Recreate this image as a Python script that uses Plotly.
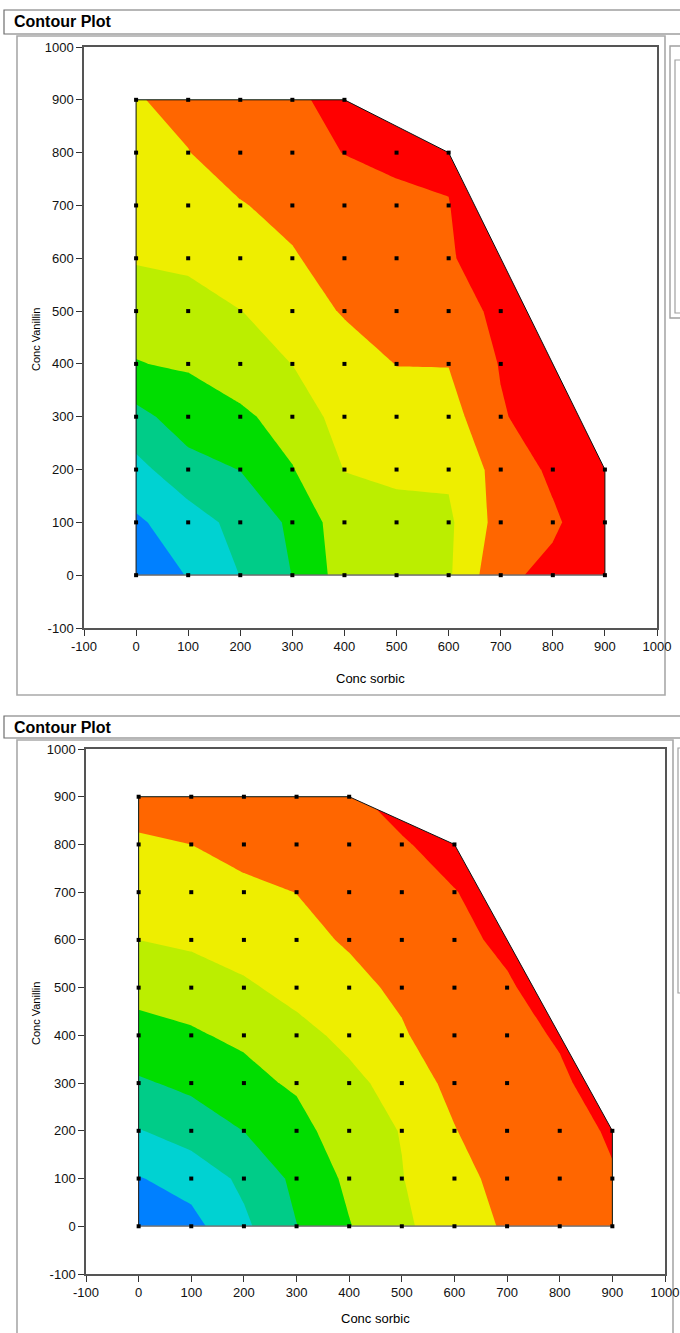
import plotly.graph_objects as go

W, H = 680, 1333
FONT = "Liberation Sans, Arial, Helvetica, sans-serif"

# ---------------- data ----------------
x_grid = [0, 100, 200, 300, 400, 500, 600, 700, 800, 900]
y_grid = [0, 100, 200, 300, 400, 500, 600, 700, 800, 900]

tick_vals = [-100, 0, 100, 200, 300, 400, 500, 600, 700, 800, 900, 1000]
tick_text = ["-100", "0", "100", "200", "300", "400", "500", "600", "700", "800", "900", "1000"]

# response values (rows = y_grid, columns = x_grid); cells beyond the
# constraint edge are estimated continuations, hidden by the region mask
z_top = [
    [0.20, 1.06, 2.02, 3.02, 4.46, 4.60, 4.87, 6.79, 7.25, 7.80],
    [0.85, 1.53, 2.33, 3.17, 4.60, 4.75, 4.83, 6.39, 6.85, 7.68],
    [1.70, 2.64, 3.02, 3.95, 5.02, 5.15, 5.15, 6.38, 7.18, 7.80],
    [2.70, 3.49, 3.80, 4.43, 5.38, 5.60, 5.59, 6.91, 7.50, 8.00],
    [3.97, 4.10, 4.60, 5.01, 5.50, 6.02, 6.03, 7.06, 7.60, 8.10],
    [4.30, 4.60, 4.98, 5.48, 6.09, 6.40, 6.70, 7.15, 7.80, 8.20],
    [5.10, 5.20, 5.60, 5.92, 6.40, 6.60, 6.90, 7.57, 7.90, 8.30],
    [5.50, 5.70, 5.95, 6.24, 6.50, 6.75, 6.98, 7.60, 8.00, 8.30],
    [5.80, 5.98, 6.38, 6.70, 7.02, 7.24, 7.10, 7.60, 8.00, 8.30],
    [5.95, 6.21, 6.50, 6.85, 7.27, 7.60, 7.80, 8.00, 8.20, 8.40],
]

z_bottom = [
    [0.30, 0.69, 1.81, 2.98, 3.95, 4.85, 5.45, 6.14, 6.50, 6.80],
    [0.95, 1.37, 2.21, 3.22, 4.20, 4.97, 5.60, 6.40, 6.75, 6.98],
    [1.95, 2.45, 3.01, 3.60, 4.65, 5.03, 5.95, 6.78, 6.90, 7.03],
    [2.88, 3.21, 3.70, 4.15, 4.75, 5.38, 6.30, 6.70, 6.95, 7.15],
    [3.65, 3.90, 4.17, 4.70, 5.24, 5.90, 6.57, 6.90, 7.03, 7.60],
    [4.30, 4.38, 4.85, 5.30, 5.75, 6.17, 6.55, 6.93, 7.30, 7.80],
    [5.00, 5.20, 5.45, 5.75, 6.09, 6.50, 6.85, 7.12, 7.50, 8.00],
    [5.45, 5.60, 5.80, 6.01, 6.35, 6.70, 6.98, 7.25, 7.70, 8.10],
    [5.90, 6.00, 6.30, 6.55, 6.75, 6.95, 7.20, 7.50, 7.90, 8.20],
    [6.30, 6.40, 6.55, 6.70, 6.92, 7.20, 7.50, 7.80, 8.10, 8.30],
]

# design points: largest sorbic level run at each vanillin level
row_max_x = [900, 900, 900, 700, 700, 700, 600, 600, 600, 400]
design_x = [x for y, mx in zip(y_grid, row_max_x) for x in x_grid if x <= mx]
design_y = [y for y, mx in zip(y_grid, row_max_x) for x in x_grid if x <= mx]

# constraint region boundary
region_x = [0, 0, 400, 600, 900, 900, 0]
region_y = [0, 900, 900, 800, 200, 0, 0]
mask_x = [400, 600, 900, 912, 912, 400, 400]
mask_y = [900, 800, 200, 200, 912, 912, 900]

levels = dict(start=1, end=7, size=1)
band_colors = ["#0080FF", "#00D2D2", "#00CC88", "#00DD00",
               "#BBEE00", "#EEEE00", "#FF6600", "#FF0000"]
colorscale = [[i / (len(band_colors) - 1), c] for i, c in enumerate(band_colors)]

x_title = "Conc sorbic"
y_title = "Conc Vanillin"
panel_title = "Contour Plot"

# ---------------- figure ----------------
fig = go.Figure()


def add_panel(z, xa, ya):
    fig.add_trace(go.Contour(
        x=x_grid, y=y_grid, z=z, xaxis=xa, yaxis=ya,
        autocontour=False, contours=dict(coloring="fill", showlines=False, **levels),
        colorscale=colorscale, showscale=False,
        line=dict(width=0, smoothing=0), hoverinfo="skip"))
    fig.add_trace(go.Scatter(
        x=mask_x, y=mask_y, xaxis=xa, yaxis=ya, mode="lines", fill="toself",
        fillcolor="white", line=dict(width=0, color="white"), hoverinfo="skip",
        showlegend=False))
    fig.add_trace(go.Scatter(
        x=region_x, y=region_y, xaxis=xa, yaxis=ya, mode="lines",
        line=dict(color="#111111", width=1), hoverinfo="skip", showlegend=False))
    fig.add_trace(go.Scatter(
        x=[region_x[0], region_x[5]], y=[region_y[0], region_y[5]], xaxis=xa, yaxis=ya,
        mode="lines", line=dict(color="#8a8a8a", width=1.6), hoverinfo="skip",
        showlegend=False))
    fig.add_trace(go.Scatter(
        x=design_x, y=design_y, xaxis=xa, yaxis=ya, mode="markers",
        marker=dict(symbol="square", size=4, color="black"),
        hoverinfo="skip", showlegend=False))


add_panel(z_top, "x", "y")
add_panel(z_bottom, "x2", "y2")


def px(v):
    return v / W


def py(v):
    return 1 - v / H


def axis(domain, anchor):
    return dict(
        domain=domain, anchor=anchor, range=[-100, 1000],
        tickmode="array", tickvals=tick_vals, ticktext=tick_text,
        ticks="outside", ticklen=6, tickwidth=1, tickcolor="#333",
        showgrid=False, zeroline=False, showline=True, linecolor="#555",
        linewidth=1.5, mirror=True, fixedrange=True, automargin=False,
        tickfont=dict(family=FONT, size=13, color="#111"))


# plot area pixel boxes
p1 = dict(l=84, r=657, t=47, b=628)
p2 = dict(l=86, r=665, t=749, b=1274)

fig.update_layout(
    width=W, height=H, margin=dict(l=0, r=0, t=0, b=0, pad=0, autoexpand=False),
    paper_bgcolor="white", plot_bgcolor="white", showlegend=False,
    xaxis=axis([px(p1["l"]), px(p1["r"])], "y"),
    yaxis=axis([py(p1["b"]), py(p1["t"])], "x"),
    xaxis2=axis([px(p2["l"]), px(p2["r"])], "y2"),
    yaxis2=axis([py(p2["b"]), py(p2["t"])], "x2"),
)

shapes = []


def rect(x0, y0, x1, y1, color, width=1):
    shapes.append(dict(type="rect", xref="paper", yref="paper",
                       x0=px(x0), x1=px(x1), y0=py(y1), y1=py(y0),
                       line=dict(color=color, width=width), fillcolor="rgba(0,0,0,0)",
                       layer="below"))


# panel 1 chrome
rect(4, 10, 700, 34, "#6e6e6e", 1.2)
rect(17, 36, 665, 695, "#a9a9a9", 1.6)
rect(670, 46, 700, 318, "#a0a0a0", 1.4)
rect(675, 60, 700, 313, "#a0a0a0", 1.2)
# panel 2 chrome
rect(4, 716, 700, 738, "#6e6e6e", 1.2)
rect(17, 740, 673, 1400, "#a9a9a9", 1.6)
rect(678, 748, 700, 993, "#a0a0a0", 1.2)

annotations = []


def text(x, y, s, size, xanchor="center", angle=0, bold=False):
    annotations.append(dict(
        xref="paper", yref="paper", x=px(x), y=py(y), text=f"<b>{s}</b>" if bold else s,
        showarrow=False, xanchor=xanchor, yanchor="middle", textangle=angle,
        font=dict(family=FONT, size=size, color="#000")))


text(12, 22, panel_title, 16, xanchor="left", bold=True)
text(12, 727, panel_title, 16, xanchor="left", bold=True)
text((p1["l"] + p1["r"]) / 2, 678, x_title, 13)
text((p2["l"] + p2["r"]) / 2, 1318, x_title, 13)
text(36, 340, y_title, 11, angle=-90)
text(36, 1014, y_title, 11, angle=-90)

fig.update_layout(shapes=shapes, annotations=annotations)

fig.write_html("out.html")
